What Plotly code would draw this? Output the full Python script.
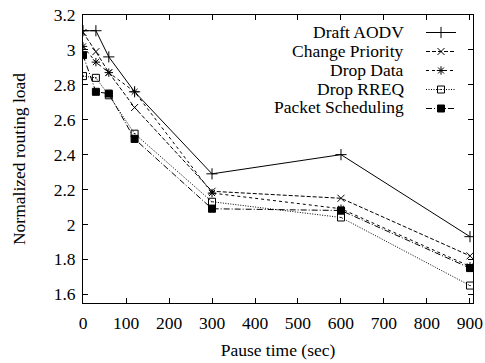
import plotly.graph_objects as go

pause_time = [0, 30, 60, 120, 300, 600, 900]
draft_aodv = [3.11, 3.11, 2.96, 2.76, 2.29, 2.40, 1.93]
change_priority = [3.10, 2.99, 2.87, 2.67, 2.19, 2.15, 1.82]
drop_data = [3.02, 2.93, 2.87, 2.76, 2.18, 2.09, 1.76]
drop_rreq = [2.85, 2.84, 2.74, 2.52, 2.13, 2.04, 1.65]
packet_sched = [2.97, 2.76, 2.75, 2.49, 2.09, 2.08, 1.75]

series_names = ["Draft AODV", "Change Priority", "Drop Data", "Drop RREQ", "Packet Scheduling"]
series_values = [draft_aodv, change_priority, drop_data, drop_rreq, packet_sched]
dashes = ["solid", "4px,2px", "3px,3px", "1px,1.5px", "6px,2px,1px,2px"]
symbols = ["cross-thin", "x-thin", "asterisk", "square-open-dot", "square"]
sizes = [8, 7, 7, 7, 7]

FONT = "Liberation Serif, Times New Roman, serif"
FS = 17.5

fig = go.Figure()
for name, vals, d, s, sz in zip(series_names, series_values, dashes, symbols, sizes):
    fig.add_trace(go.Scatter(
        x=pause_time, y=vals, mode="lines+markers", name="",
        line=dict(color="black", width=1, dash=d),
        marker=dict(symbol=s, size=sz, color="black", line=dict(color="black", width=1)),
        showlegend=True,
    ))

# legend labels (gnuplot-style: text right-aligned left of the sample)
row0 = 32.3
step = 18.75
plot_left, plot_w = 83, 390
plot_top, plot_h = 15, 288
for i, name in enumerate(series_names):
    py = row0 + i * step
    fig.add_annotation(
        x=(406 - plot_left) / plot_w, y=(plot_top + plot_h - py) / plot_h, xref="paper", yref="paper",
        text=name, showarrow=False, xanchor="right", yanchor="middle",
        font=dict(family=FONT, size=FS, color="black"),
    )

axis_common = dict(
    showline=True, linecolor="black", linewidth=1, mirror="ticks",
    ticks="inside", ticklen=5, tickwidth=1, tickcolor="black",
    showgrid=False, zeroline=False, automargin=False,
    tickfont=dict(family=FONT, size=FS, color="black"),
)

fig.update_layout(
    width=485, height=363,
    paper_bgcolor="white", plot_bgcolor="white",
    margin=dict(l=plot_left, r=485 - plot_left - plot_w, t=plot_top, b=363 - plot_top - plot_h),
    font=dict(family=FONT, size=FS, color="black"),
    xaxis=dict(range=[0, 907], tickmode="linear", tick0=0, dtick=100, ticklabelstandoff=4,
               title=dict(text="Pause time (sec)", font=dict(family=FONT, size=FS), standoff=11),
               **axis_common),
    yaxis=dict(range=[1.55, 3.2], tickmode="linear", tick0=1.6, dtick=0.2, ticklabelstandoff=3,
               title=dict(text="Normalized routing load", font=dict(family=FONT, size=FS), standoff=23),
               **axis_common),
    legend=dict(x=(421 - plot_left) / plot_w, y=(plot_top + plot_h - 18) / plot_h, xanchor="left", yanchor="top",
                bgcolor="rgba(0,0,0,0)", borderwidth=0, font=dict(size=11),
                tracegroupgap=0, itemwidth=30),
    showlegend=True,
)

fig.write_html("out.html", config={"displayModeBar": False},
               post_script="document.body.style.margin='0';document.body.style.overflow='hidden';")
